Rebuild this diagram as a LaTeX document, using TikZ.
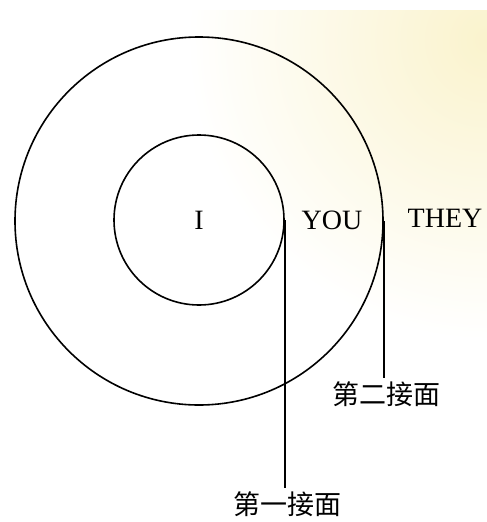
\documentclass[tikz,border=0pt]{standalone}
\usepackage{fontspec}
\setmainfont{Liberation Serif}
\newfontfamily\cjk{Noto Sans CJK SC}
\usepackage{xcolor}
\usepackage{tikz}
\usetikzlibrary{positioning,calc}
\definecolor{paper}{RGB}{250,243,205}

\begin{document}
\begin{tikzpicture}[
  x=1pt,y=-1pt,
  ring/.style={draw,circle,line width=1.6pt,inner sep=0pt},
  word/.style={font=\fontsize{28}{32}\selectfont,inner sep=0pt},
  tag/.style={font=\cjk\fontsize{27}{30}\selectfont,inner sep=3pt},
  lead/.style={line width=1.5pt}
]
\useasboundingbox (0,0) rectangle (487,522);
% paper tint, top right
\begin{scope}
\clip (0,10) rectangle (487,522);
\shade[inner color=paper,outer color=white] (487,40) circle (300);
\end{scope}
\node[ring,minimum size=368pt] (outer) at (199,221) {};
\node[ring,minimum size=170pt,word] (inner) at (199,220) {I};
\node[word] (you) at (332,220) {YOU};
\node[word] (they) at (445,218) {THEY};
\node[tag,anchor=north] (second) at ($(outer.east)+(3,157)$) {第二接面};
\node[tag,anchor=north] (first) at ($(inner.east)+(3,268)$) {第一接面};
\draw[lead] (inner.east) -- (inner.east |- first.north);
\draw[lead] (outer.east) -- (outer.east |- second.north);
\end{tikzpicture}
\end{document}
